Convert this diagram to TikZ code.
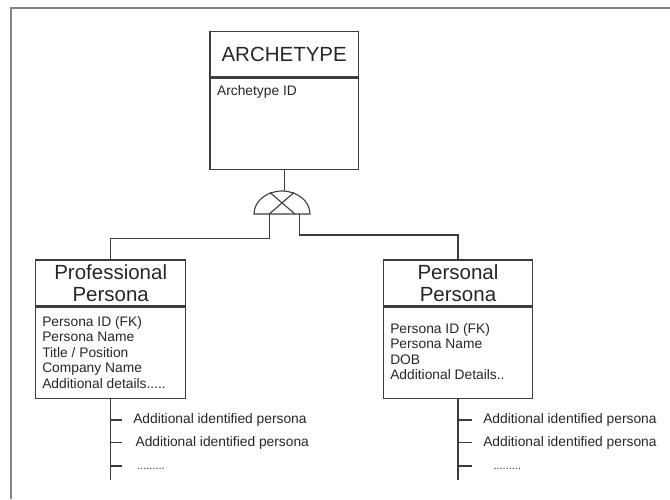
\documentclass[tikz,border=0pt]{standalone}
\usepackage{fontspec}
\setmainfont{Liberation Sans}
\definecolor{linec}{HTML}{3C3C3C}
\definecolor{textc}{HTML}{262626}
\definecolor{framec}{HTML}{848484}
\begin{document}
\begin{tikzpicture}[x=1pt,y=-1pt,
  line width=1.1pt, draw=linec, text=textc,
  box/.style={draw=linec, line width=1.2pt, inner sep=0pt, align=center,
    font=\fontsize{20.5}{22}\selectfont},
  attr/.style={inner sep=0pt, align=left, anchor=north west,
    font=\fontsize{13.8}{15.5}\selectfont},
  branch/.style={inner sep=0pt, anchor=west, font=\fontsize{13.8}{15.5}\selectfont},
  dotsl/.style={inner sep=0pt, anchor=base west, font=\fontsize{11}{13}\selectfont}]
\useasboundingbox (0,0) rectangle (670,499);
% page frame (top and left edges only)
\draw[framec, line width=2pt] (11,499) -- (11,7.7) -- (670,7.7);

% ARCHETYPE entity
\node[box, minimum width=148.3pt, minimum height=45pt] (archT) at (284.2,54.2) {ARCHETYPE};
\node[box, minimum width=148.3pt, minimum height=91.6pt, anchor=north] (archB) at (archT.south) {};
\node[attr, anchor=base west] (archA) at (216.5,95.6) {Archetype ID};

% Professional Persona entity
\node[box, minimum width=150pt, minimum height=46pt] (proT) at (110.7,283) {Professional\\Persona};
\node[box, minimum width=150pt, minimum height=91.3pt, anchor=north] (proB) at (proT.south) {};
\node[attr] (proA) at (41.7,315.6) {Persona ID (FK)\\Persona Name\\Title / Position\\Company Name\\Additional details.....};

% Personal Persona entity
\node[box, minimum width=149.4pt, minimum height=46pt] (perT) at (458,283) {Personal\\Persona};
\node[box, minimum width=149.4pt, minimum height=91.3pt, anchor=north] (perB) at (perT.south) {};
\node[attr] (perA) at (389.7,322.6) {Persona ID (FK)\\Persona Name\\DOB\\Additional Details..};

% exclusive subtype symbol: half ellipse with a cross
\coordinate (gate) at (282,214);
\coordinate (gL) at (269.3,214);
\coordinate (gR) at (299.3,214);
\draw (254,214) arc[start angle=180, end angle=0, x radius=28pt, y radius=23pt] -- cycle;
\draw (270,192.5) -- (295,214);
\draw (294,192.5) -- (269.3,214);

% connectors
\draw (archB.south) -- (archB.south |- 0,191.2);
\draw (gL) -- ++(0,24.3) -| (proT.north);
\draw (gR) -- ++(0,21) -| (perT.north);

% identified persona lists
\coordinate (proEnd) at (110.7,480);
\coordinate (perEnd) at (458,480);
\draw (proB.south) -- (proEnd);
\draw (perB.south) -- (perEnd);
\foreach \y in {420,442.7,466} {
  \draw (110.7,\y) -- (121.7,\y);
  \draw (458,\y) -- (471.5,\y);
}
\node[branch] (pro1) at (132.7,420) {Additional identified persona};
\node[branch] (pro2) at (135,442.7) {Additional identified persona};
\node[dotsl] (pro3) at (136.7,469.5) {.........};
\node[branch] (per1) at (482.7,420) {Additional identified persona};
\node[branch] (per2) at (482.7,442.7) {Additional identified persona};
\node[dotsl] (per3) at (493,469.5) {.........};
\end{tikzpicture}
\end{document}
